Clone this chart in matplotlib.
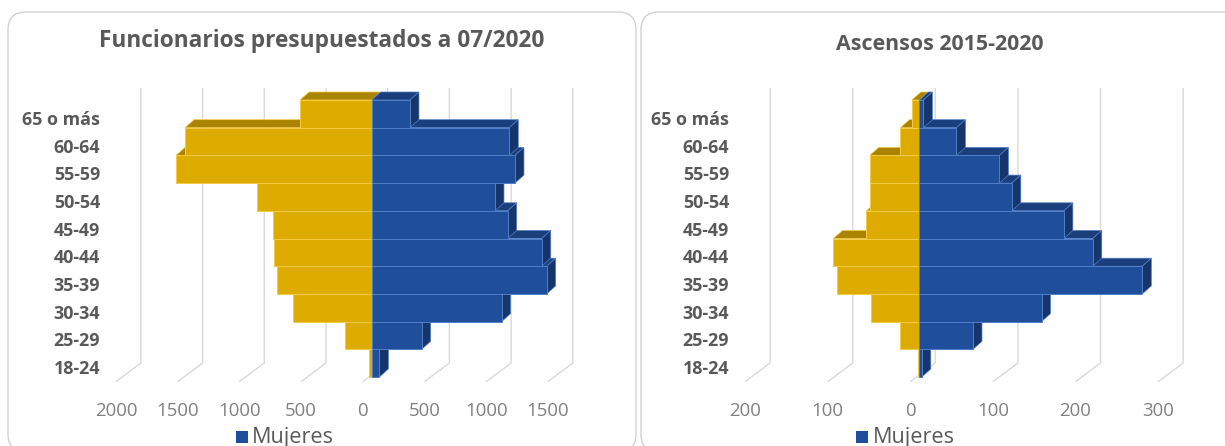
import matplotlib
matplotlib.use("Agg")
import matplotlib.pyplot as plt
from matplotlib.patches import Polygon, FancyBboxPatch, Rectangle

plt.rcParams['font.family'] = ['Open Sans', 'DejaVu Sans']

# ---- data -------------------------------------------------------------
age_groups = ["18-24", "25-29", "30-34", "35-39", "40-44",
              "45-49", "50-54", "55-59", "60-64", "65 o más"]

func_hombres = [19, 216, 635, 770, 792, 797, 932, 1586, 1513, 581]
func_mujeres = [62, 405, 1053, 1418, 1378, 1102, 999, 1161, 1115, 310]

asc_hombres = [2, 23, 59, 100, 104, 64, 60, 60, 23, 9]
asc_mujeres = [3, 65, 148, 270, 210, 175, 112, 97, 45, 5]

func_ticks = [-2000, -1500, -1000, -500, 0, 500, 1000, 1500]
asc_ticks = [-200, -100, 0, 100, 200, 300]

title_func = "Funcionarios presupuestados a 07/2020"
title_asc = "Ascensos 2015-2020"
legend_label = "Mujeres"

# ---- style ------------------------------------------------------------
W, H = 1225, 446
ROW = 27.7            # pixel height of one age band
Y0 = 377              # pixel row of the pyramid base
YEL, YEL_TOP, YEL_EDGE = '#DEAB00', '#AA8400', '#F4CB46'
BLU, BLU_TOP, BLU_SIDE, BLU_EDGE = '#1F4E9B', '#1A3F7C', '#16356A', '#507FC8'
GRID = '#D9D9D9'
TXT_DARK = '#595959'
TXT_TICK = '#808080'

fig = plt.figure(figsize=(W / 100, H / 100), dpi=100)
renderer = fig.canvas.get_renderer()


def fit_size(text, target_px, **kw):
    t = fig.text(0, 0, text, fontsize=10, **kw)
    w = t.get_window_extent(renderer).width
    t.remove()
    return 10 * target_px / w


title_fs = fit_size(title_func, 445, fontweight='bold')
title2_fs = fit_size(title_asc, 208, fontweight='bold')
cat_fs = fit_size("65 o más", 78, fontweight='bold')
tick_fs = fit_size("1000", 43)
leg_fs = fit_size(legend_label, 82)

# background layer in pixel coordinates
bg = fig.add_axes([0, 0, 1, 1])
bg.set_xlim(0, W)
bg.set_ylim(H, 0)
bg.axis('off')

for x0, w in [(8, 628), (641, 620)]:
    bg.add_patch(FancyBboxPatch((x0, 12), w, 440,
                                boxstyle="round,pad=0,rounding_size=18",
                                fc='white', ec='#D2D2D2', lw=1.0))

bg.text(322, 41, title_func, ha='center', va='center', fontsize=title_fs,
        fontweight='bold', color=TXT_DARK)
bg.text(940, 44, title_asc, ha='center', va='center', fontsize=title2_fs,
        fontweight='bold', color=TXT_DARK)

for sx, tx in [(236, 252), (856, 873)]:
    bg.add_patch(Rectangle((sx, 431), 12, 12, fc=BLU, ec='none'))
    bg.text(tx, 437, legend_label, ha='left', va='center', fontsize=leg_fs,
            color=TXT_DARK)


def pyramid(x0_px, scale, xlim, ticks, left_vals, right_vals, cat_right_px):
    ylim = (-2.5, 11.6)
    left_px = x0_px + scale * xlim[0]
    right_px = x0_px + scale * xlim[1]
    top_px = Y0 - ROW * ylim[1]
    bot_px = Y0 - ROW * ylim[0]
    ax = fig.add_axes([left_px / W, (H - bot_px) / H,
                       (right_px - left_px) / W, (bot_px - top_px) / H])
    ax.set_xlim(*xlim)
    ax.set_ylim(*ylim)
    ax.axis('off')
    ax.patch.set_alpha(0)

    dv = 9 / scale          # bar depth, horizontal
    dz = 8 / ROW            # bar depth, vertical
    back = 16 / scale       # back wall offset
    floor_dx = 25 / scale

    # back-wall gridlines folding onto the floor
    y_top = (Y0 - 88) / ROW
    y_wall = (Y0 - 363) / ROW
    y_floor = (Y0 - 381.7) / ROW
    for t in ticks:
        xb = t + back
        ax.plot([xb, xb, xb - floor_dx], [y_top, y_wall, y_floor],
                color=GRID, lw=1.0, zorder=1, solid_capstyle='butt')
        ax.text(t - 9 / scale, (Y0 - 411) / ROW, f"{abs(t)}", ha='center',
                va='center', fontsize=tick_fs, color=TXT_TICK)

    n = len(age_groups)
    ypos = [i + 0.5 for i in range(n)]
    front_l = ax.barh(ypos, [-v for v in left_vals], height=1.0, left=0,
                      color=YEL, edgecolor=YEL_EDGE, linewidth=0.7)
    front_r = ax.barh(ypos, right_vals, height=1.0, left=0,
                      color=BLU, edgecolor=BLU_EDGE, linewidth=0.7)

    for i in range(n):
        z = 2 + i
        lv = -left_vals[i]
        rv = right_vals[i]
        # top faces
        ax.add_patch(Polygon([(lv, i + 1), (0, i + 1), (dv, i + 1 + dz),
                              (lv + dv, i + 1 + dz)], closed=True,
                             fc=YEL_TOP, ec=YEL_EDGE, lw=0.5, zorder=z))
        ax.add_patch(Polygon([(0, i + 1), (rv, i + 1), (rv + dv, i + 1 + dz),
                              (dv, i + 1 + dz)], closed=True,
                             fc=BLU_TOP, ec=BLU_EDGE, lw=0.5, zorder=z))
        # right side face of the blue bar
        ax.add_patch(Polygon([(rv, i), (rv + dv, i + dz), (rv + dv, i + 1 + dz),
                              (rv, i + 1)], closed=True,
                             fc=BLU_SIDE, ec=BLU_EDGE, lw=0.5, zorder=z + 0.1))
        front_l.patches[i].set_zorder(z + 0.2)
        front_r.patches[i].set_zorder(z + 0.2)

        ax.text((cat_right_px - x0_px) / scale, i + 0.5 - 6 / ROW,
                age_groups[i], ha='right', va='center', fontsize=cat_fs,
                fontweight='bold', color=TXT_DARK)
    return ax


pyramid(371.7, 0.1234, (-2700, 2200), func_ticks, func_hombres, func_mujeres, 100)
pyramid(919.3, 0.826, (-300, 340), asc_ticks, asc_hombres, asc_mujeres, 729)

fig.savefig("out.png", dpi=100)
